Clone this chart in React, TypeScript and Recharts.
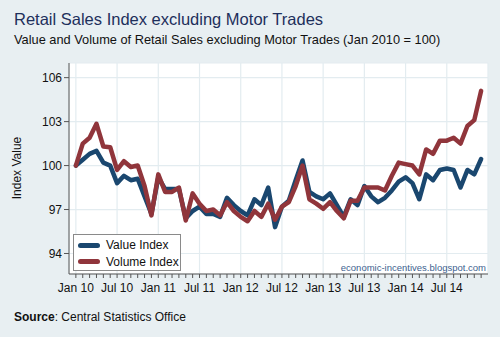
import React from 'react';
import { LineChart, Line, XAxis, YAxis, CartesianGrid } from 'recharts';

const valueIndex = [
  100.0, 100.4, 100.8, 101.0, 100.2, 100.0, 98.8, 99.3, 99.0, 99.1, 97.9, 96.7,
  99.2, 98.4, 98.4, 98.4, 96.4, 96.9, 97.2, 96.7, 96.7, 96.5, 97.8, 97.3,
  96.9, 96.6, 97.7, 97.3, 98.5, 95.8, 97.2, 97.6, 99.0, 100.35, 98.2, 97.9,
  97.7, 98.1, 97.3, 96.5, 97.7, 97.3, 98.6, 97.9, 97.5, 97.8, 98.3, 98.9,
  99.2, 98.8, 97.7, 99.4, 99.0, 99.7, 99.8, 99.7, 98.5, 99.7, 99.4, 100.45,
];

const volumeIndex = [
  100.0, 101.5, 101.9, 102.85, 101.3, 101.25, 99.7, 100.3, 99.9, 100.0, 98.6, 96.6,
  99.4, 98.2, 98.2, 98.5, 96.25, 98.1, 97.4, 96.9, 97.0, 96.6, 97.5, 96.9,
  96.5, 96.2, 96.9, 96.5, 97.4, 96.3, 97.2, 97.5, 98.6, 100.0, 97.7, 97.4,
  97.05, 97.5, 96.9, 96.4, 97.6, 97.6, 98.5, 98.5, 98.5, 98.3, 99.3, 100.2,
  100.1, 100.0, 99.4, 101.1, 100.8, 101.7, 101.7, 101.9, 101.5, 102.7, 103.1, 105.1,
];

const tickLabels = ['Jan 10', 'Jul 10', 'Jan 11', 'Jul 11', 'Jan 12', 'Jul 12', 'Jan 13', 'Jul 13', 'Jan 14', 'Jul 14'];
const yTicks = [94, 97, 100, 103, 106];
const seriesNames = ['Value Index', 'Volume Index'];

const data = valueIndex.map((v, i) => ({ i, value: v, volume: volumeIndex[i] }));
const monthTicks = data.map((d) => d.i);
const majorTicks = tickLabels.map((_, k) => k * 6);

const BG = '#e8eff2';
const GRID = '#e3ecf0';
const NAVY = '#1a476f';
const MAROON = '#90353b';
const AXIS = '#555';
const FONT = "'Liberation Sans', Arial, sans-serif";

const LegendBox = () => (
  <div
    style={{
      position: 'absolute',
      left: 73,
      top: 234,
      background: '#fff',
      border: '1px solid #8a8a8a',
      width: 108,
      height: 37,
      boxSizing: 'border-box',
      padding: '2px 0 0 4px',
      fontFamily: FONT,
      fontSize: 12,
      color: '#111',
    }}
  >
    {seriesNames.map((n, k) => (
      <div key={n} style={{ display: 'flex', alignItems: 'center', height: 16.5 }}>
        <div style={{ width: 22, height: 5, borderRadius: 3, background: k === 0 ? NAVY : MAROON, marginRight: 6 }} />
        <span>{n}</span>
      </div>
    ))}
  </div>
);

export default function App() {
  return (
    <div style={{ position: 'absolute', left: 0, top: 0, width: 500, height: 337, background: BG, fontFamily: FONT, overflow: 'hidden' }}>
      <div style={{ position: 'absolute', left: 14, top: 10, fontSize: 16.5, color: '#1e2f5c', whiteSpace: 'nowrap' }}>
        Retail Sales Index excluding Motor Trades
      </div>
      <div style={{ position: 'absolute', left: 14, top: 32, fontSize: 12.8, color: '#111', whiteSpace: 'nowrap' }}>
        Value and Volume of Retail Sales excluding Motor Trades (Jan 2010 = 100)
      </div>
      <div
        style={{
          position: 'absolute',
          left: 17,
          top: 168,
          fontSize: 12,
          color: '#111',
          whiteSpace: 'nowrap',
          transform: 'translate(-50%, -50%) rotate(-90deg)',
        }}
      >
        Index Value
      </div>
      <div style={{ position: 'absolute', left: 14, top: 310, fontSize: 12, color: '#111', whiteSpace: 'nowrap' }}>
        <b>Source</b>: Central Statistics Office
      </div>
      <div style={{ position: 'absolute', left: 0, top: 0 }}>
        <LineChart width={500} height={337} data={data} margin={{ top: 63, right: 12, bottom: 33, left: 0 }}>
          <CartesianGrid xAxisId="major" fill="#fff" stroke={GRID} strokeWidth={1.2} />
          <XAxis
            xAxisId="major"
            type="number"
            dataKey="i"
            domain={[-1, 60]}
            ticks={majorTicks}
            hide
          />
          <XAxis
            type="number"
            dataKey="i"
            domain={[-1, 60]}
            ticks={monthTicks}
            interval={0}
            height={30}
            tickSize={4}
            tickMargin={5}
            stroke={AXIS}
            tickLine={{ stroke: AXIS }}
            tick={{ fill: '#111', fontSize: 12, fontFamily: FONT }}
            tickFormatter={(v: number) => (v % 6 === 0 ? tickLabels[v / 6] : '')}
          />
          <YAxis
            type="number"
            domain={[92.6, 107]}
            ticks={yTicks}
            interval={0}
            width={69}
            tickSize={5}
            tickMargin={2}
            stroke={AXIS}
            tickLine={{ stroke: AXIS }}
            tick={{ fill: '#111', fontSize: 12, fontFamily: FONT }}
          />
          <Line
            type="linear"
            dataKey="value"
            name={seriesNames[0]}
            stroke={NAVY}
            strokeWidth={4.5}
            strokeLinejoin="round"
            strokeLinecap="round"
            dot={false}
            isAnimationActive={false}
          />
          <Line
            type="linear"
            dataKey="volume"
            name={seriesNames[1]}
            stroke={MAROON}
            strokeWidth={4.5}
            strokeLinejoin="round"
            strokeLinecap="round"
            dot={false}
            isAnimationActive={false}
          />
        </LineChart>
      </div>
      <LegendBox />
      <div style={{ position: 'absolute', right: 14, top: 262, fontSize: 9.5, color: '#3d5f8f', whiteSpace: 'nowrap' }}>
        economic-incentives.blogspot.com
      </div>
    </div>
  );
}
